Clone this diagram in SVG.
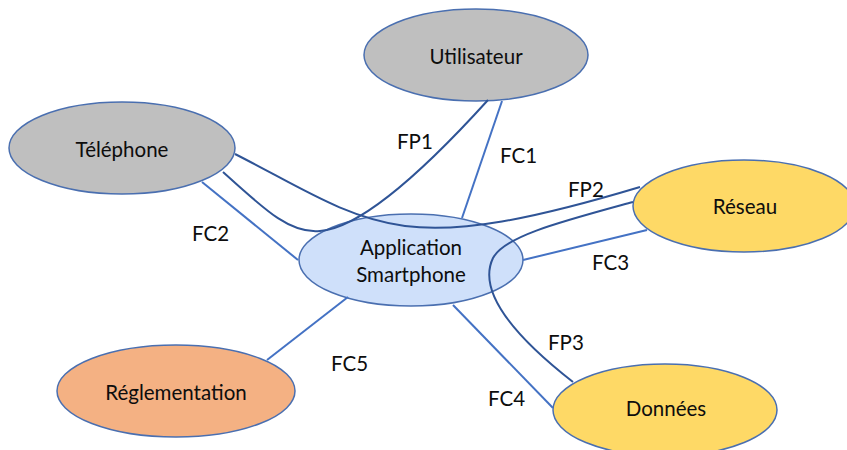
<svg xmlns="http://www.w3.org/2000/svg" width="847" height="450" viewBox="0 0 847 450">
<style>
.node{stroke:#4A6FB0;stroke-width:1.5}
.gray{fill:#BFBFBF}
.blue{fill:#CFE0FA}
.yellow{fill:#FED966}
.orange{fill:#F4B183}
.fc{fill:none;stroke:#4472C4;stroke-width:2}
.fp{fill:none;stroke:#2F5496;stroke-width:2}
text{font-family:Lato,"Open Sans",sans-serif;font-size:20.5px;fill:#0d0d0d}
.nt{text-anchor:middle;dominant-baseline:central}
.lb{dominant-baseline:central}
</style>
<rect width="847" height="450" fill="#fff"/>
<g id="utilisateur"><ellipse class="node gray" cx="476" cy="55" rx="112" ry="46"/><text class="nt" x="476" y="56">Utilisateur</text></g>
<g id="telephone"><ellipse class="node gray" cx="122" cy="148" rx="113" ry="46"/><text class="nt" x="122" y="149">Téléphone</text></g>
<g id="application"><ellipse class="node blue" cx="411" cy="260" rx="112" ry="46"/><text class="nt" x="411" y="247">Application</text><text class="nt" x="411" y="274">Smartphone</text></g>
<g id="reseau"><ellipse class="node yellow" cx="744" cy="206" rx="111" ry="46"/><text class="nt" x="745" y="206">Réseau</text></g>
<g id="donnees"><ellipse class="node yellow" cx="665" cy="410" rx="112" ry="46"/><text class="nt" x="666" y="408">Données</text></g>
<g id="reglementation"><ellipse class="node orange" cx="176" cy="391" rx="119" ry="46"/><text class="nt" x="176" y="392">Réglementation</text></g>
<g id="connectors">
<path class="fc" d="M502,101 L462,218"/>
<path class="fc" d="M202,182 L298,260"/>
<path class="fc" d="M523,260 L647,230"/>
<path class="fc" d="M453,305 L553,408"/>
<path class="fc" d="M348,297 L267,360"/>
<path class="fp" d="M223,172 C265,210 290,234 320,231 C360,228 420,175 488,100"/>
<path class="fp" d="M235,154 C300,187 345,218 405,226 C460,233 530,220 640,187"/>
<path class="fp" d="M633,202 C560,222 505,236 493,258 C480,285 500,325 573,382"/>
</g>
<g id="labels">
<text class="lb" x="397" y="141">FP1</text>
<text class="lb" x="500" y="155">FC1</text>
<text class="lb" x="568" y="189">FP2</text>
<text class="lb" x="192" y="233">FC2</text>
<text class="lb" x="592" y="262">FC3</text>
<text class="lb" x="548" y="342">FP3</text>
<text class="lb" x="488" y="398">FC4</text>
<text class="lb" x="331" y="363">FC5</text>
</g>
</svg>
